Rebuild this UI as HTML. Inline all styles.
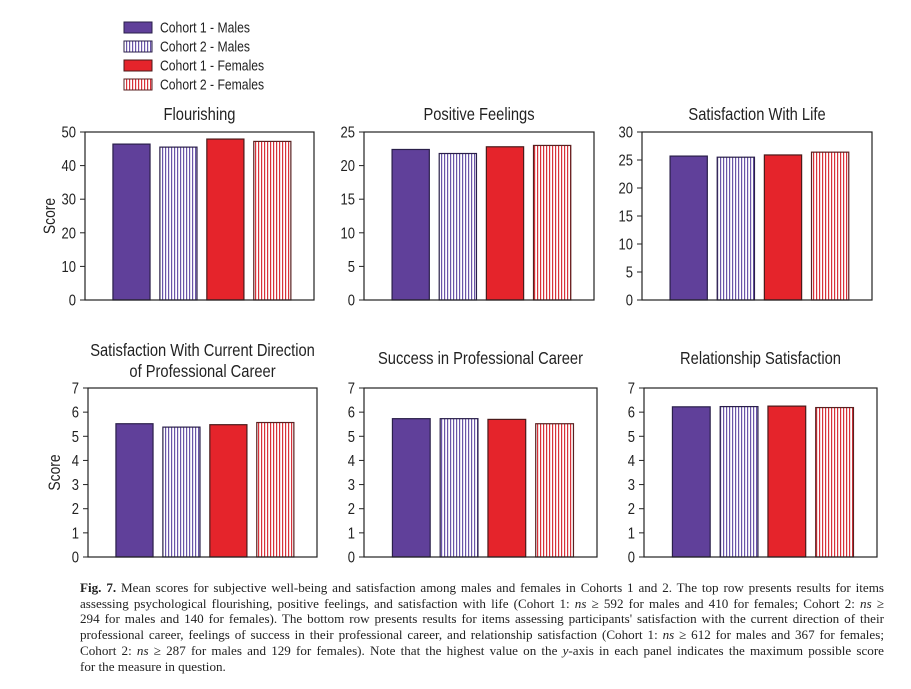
<!DOCTYPE html>
<html><head><meta charset="utf-8">
<style>
body{margin:0;background:#fff;width:911px;height:689px;overflow:hidden;position:relative;font-family:"Liberation Sans",sans-serif}
#cap{position:absolute;left:80px;top:580px;width:804px;font-family:"Liberation Serif",serif;font-size:13.1px;line-height:15.7px;color:#222}
#cap div{text-align:justify;text-align-last:justify;white-space:nowrap}
#cap div.last{text-align-last:left}
</style></head>
<body>
<svg id="chart" width="911" height="575" style="position:absolute;left:0;top:0" xmlns="http://www.w3.org/2000/svg">
<defs>
<pattern id="stripeM" width="3" height="10" patternUnits="userSpaceOnUse"><rect width="3" height="10" fill="#fff"/><rect width="1.2" height="10" fill="#6a55a8"/></pattern>
<pattern id="stripeF" width="3" height="10" patternUnits="userSpaceOnUse"><rect width="3" height="10" fill="#fff"/><rect width="1.2" height="10" fill="#d8323a"/></pattern>
</defs>
<g id="legend"></g>
<g id="panels"></g>
</svg>
<div id="cap">
<div><b>Fig. 7.</b> Mean scores for subjective well-being and satisfaction among males and females in Cohorts 1 and 2. The top row presents results for items</div>
<div>assessing psychological flourishing, positive feelings, and satisfaction with life (Cohort 1: <i>ns</i> ≥ 592 for males and 410 for females; Cohort 2: <i>ns</i> ≥</div>
<div>294 for males and 140 for females). The bottom row presents results for items assessing participants' satisfaction with the current direction of their</div>
<div>professional career, feelings of success in their professional career, and relationship satisfaction (Cohort 1: <i>ns</i> ≥ 612 for males and 367 for females;</div>
<div>Cohort 2: <i>ns</i> ≥ 287 for males and 129 for females). Note that the highest value on the <i>y</i>-axis in each panel indicates the maximum possible score</div>
<div class="last">for the measure in question.</div>
</div>
<script>
const seriesNames = ["Cohort 1 - Males","Cohort 2 - Males","Cohort 1 - Females","Cohort 2 - Females"];
const panelTitles = ["Flourishing","Positive Feelings","Satisfaction With Life","Satisfaction With Current Direction|of Professional Career","Success in Professional Career","Relationship Satisfaction"];
const panelMax = [50,25,30,7,7,7];
const panelStep = [10,5,5,1,1,1];
const flourishing = [46.4,45.5,47.9,47.2];
const positiveFeelings = [22.4,21.8,22.8,23.0];
const satisfactionLife = [25.7,25.5,25.9,26.4];
const careerDirection = [5.52,5.38,5.48,5.57];
const careerSuccess = [5.73,5.73,5.70,5.52];
const relationship = [6.22,6.23,6.25,6.19];
const panelValues = [flourishing,positiveFeelings,satisfactionLife,careerDirection,careerSuccess,relationship];

const NS="http://www.w3.org/2000/svg";
const fills=["#60409a","url(#stripeM)","#e5242b","url(#stripeF)"];
const strokes=["#2a1f4a","#2a1f4a","#4a1a1a","#5a2020"];
const boxes=[[85,314,132,300],[364,594,132,300],[642,872,132,300],[88,317,388,557],[364,597,388,557],[644,877,388,557]];
const SX=0.84;
function mk(tag,attrs,parent){const e=document.createElementNS(NS,tag);for(const k in attrs)e.setAttribute(k,attrs[k]);parent.appendChild(e);return e;}
function txt(parent,x,y,str,size,anchor,rot){
  const g=mk('g',{transform:`translate(${x} ${y})`+(rot?` rotate(${rot})`:'')+` scale(${SX} 1)`},parent);
  const t=mk('text',{x:0,y:0,'font-size':size,fill:'#222','text-anchor':anchor||'start'},g);
  t.textContent=str;
  return t;
}
const leg=document.getElementById('legend');
seriesNames.forEach((n,i)=>{
  const y=22+i*19;
  const r=mk('rect',{x:124,y:y,width:28,height:11,fill:fills[i],stroke:strokes[i],'stroke-width':1},leg);
  
  
  const t=txt(leg,160,y+10.5,n,14.5);
  
  
});
const pg=document.getElementById('panels');
panelTitles.forEach((title,p)=>{
  const [x0,x1,y0,y1]=boxes[p];
  const g=mk('g',{},pg);
  
  
  const max=panelMax[p];
  const yS=v=>y1-(v/max)*(y1-y0);
  const cx=(x0+x1)/2;
  const lines=title.split('|');
  lines.forEach((ln,k)=>{
    const ty = lines.length>1 ? y0-32+k*21 : (p<3 ? y0-12 : y0-24);
    const t=txt(g,cx,ty,ln,17.5,'middle');
    
    
  });
  const w=x1-x0, bw=w*0.162, sp=w*0.205, off=w*0.122;
  panelValues[p].forEach((v,i)=>{
    const bx=x0+off+i*sp;
    const r=mk('rect',{x:bx,y:yS(v),width:bw,height:y1-yS(v),fill:fills[i],stroke:strokes[i],'stroke-width':1.2},g);
    
    
  });
  const frame=mk('rect',{x:x0,y:y0,width:w,height:y1-y0,fill:'none',stroke:'#222','stroke-width':1.2},g);
  
  
  for(let v=0;v<=max;v+=panelStep[p]){
    mk('line',{x1:x0-5,x2:x0,y1:yS(v),y2:yS(v),stroke:'#222','stroke-width':1},g);
    const t=txt(g,x0-9,yS(v)+5.5,String(v),15.5,'end');
    
    
  }
  if(p===0||p===3){
    const yy=(y0+y1)/2, xx=x0-(p===0?30:28);
    const t=txt(g,xx,yy,'Score',16.5,'middle',-90);
    
    
  }
});
</script>
</body></html>
